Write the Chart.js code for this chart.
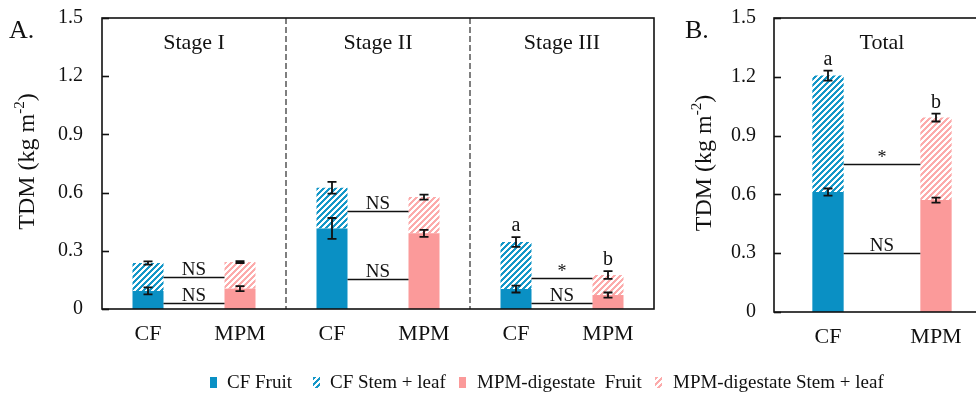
<!DOCTYPE html>
<html>
<head>
<meta charset="utf-8">
<script src="https://cdn.jsdelivr.net/npm/chart.js@4.4.1/dist/chart.umd.min.js"></script>
<style>
  html, body { margin: 0; padding: 0; background: #fff; overflow: hidden; }
  #wrap { position: relative; width: 976px; height: 396px; overflow: hidden; }
  canvas.ch { position: absolute; top: 0; }
  .leg { position: absolute; top: 372px; font-family: "Liberation Serif", "Times New Roman", serif; font-size: 19px; color: #111; white-space: pre; line-height: 20px; }
  .sw { position: absolute; top: 377px; }
</style>
</head>
<body>
<div id="wrap">
  <canvas id="cA" class="ch" width="670" height="396" style="left:0px;width:670px;height:396px"></canvas>
  <canvas id="cB" class="ch" width="320" height="396" style="left:680px;width:320px;height:396px"></canvas>
  <canvas class="sw" id="s1" width="7" height="11" style="left:210px"></canvas>
  <div class="leg" style="left:227px">CF Fruit</div>
  <canvas class="sw" id="s2" width="7" height="11" style="left:313px"></canvas>
  <div class="leg" style="left:330px">CF Stem + leaf</div>
  <canvas class="sw" id="s3" width="7" height="11" style="left:459px"></canvas>
  <div class="leg" style="left:477px">MPM-digestate  Fruit</div>
  <canvas class="sw" id="s4" width="7" height="11" style="left:655px"></canvas>
  <div class="leg" style="left:673px">MPM-digestate Stem + leaf</div>
</div>
<script>
// ---------------- DATA ----------------
const yTicks = [0, 0.3, 0.6, 0.9, 1.2, 1.5];

// Panel A: stage-wise (CF, MPM per stage)
const stagesA = ["Stage I", "Stage II", "Stage III"];
const catsA = ["CF", "MPM", "CF", "MPM", "CF", "MPM"];
const fruitA = [0.093, 0.105, 0.415, 0.390, 0.103, 0.072];
const stemA = [0.144, 0.137, 0.210, 0.187, 0.242, 0.103];
const fruitErrA = [0.018, 0.013, 0.054, 0.018, 0.018, 0.013];
const totalErrA = [0.008, 0.005, 0.030, 0.013, 0.025, 0.020];
// significance lines between CF and MPM bars: [stage index, y value, label]
const sigA = [[0, 0.165, "NS"], [0, 0.031, "NS"], [1, 0.505, "NS"], [1, 0.155, "NS"], [2, 0.160, "*"], [2, 0.031, "NS"]];
const lettersA = ["", "", "", "", "a", "b"];

// Panel B: total
const catsB = ["CF", "MPM"];
const fruitB = [0.612, 0.571];
const stemB = [0.594, 0.421];
const fruitErrB = [0.018, 0.013];
const totalErrB = [0.026, 0.020];
const sigB = [[0, 0.755, "*"], [0, 0.300, "NS"]];
const lettersB = ["a", "b"];

// ---------------- STYLE ----------------
const BLUE = "#0a90c4";
const BLUE_H = "#1597c8";
const PINK = "#fb9a9a";
const PINK_H = "#fcabab";
const SERIF = '"Liberation Serif", "Times New Roman", serif';

function hatch(color) {
  const s = 6;
  const c = document.createElement("canvas");
  c.width = s; c.height = s;
  const g = c.getContext("2d");
  const img = g.createImageData(s, s);
  const r = parseInt(color.slice(1, 3), 16), gg = parseInt(color.slice(3, 5), 16), b = parseInt(color.slice(5, 7), 16);
  for (let y = 0; y < s; y++) for (let x = 0; x < s; x++) {
    const on = ((x + y) % s) < 3;
    const k = (y * s + x) * 4;
    img.data[k] = on ? r : 255; img.data[k + 1] = on ? gg : 255; img.data[k + 2] = on ? b : 255; img.data[k + 3] = 255;
  }
  g.putImageData(img, 0, 0);
  return c;
}
const hatchBlueC = hatch(BLUE_H), hatchPinkC = hatch(PINK_H);

function swatch(id, fill) {
  const c = document.getElementById(id), g = c.getContext("2d");
  g.fillStyle = typeof fill === "string" ? fill : g.createPattern(fill, "repeat");
  g.fillRect(0, 0, c.width, c.height);
}
swatch("s1", BLUE); swatch("s2", hatchBlueC); swatch("s3", PINK); swatch("s4", hatchPinkC);

const overlay = {
  id: "overlay",
  afterDatasetsDraw(chart, args, o) {
    const ctx = chart.ctx, ca = chart.chartArea;
    const xs = chart.scales.x, ys = chart.scales.y;
    const m0 = chart.getDatasetMeta(0).data;
    ctx.save();
    // stage separators and titles
    if (o.stages) {
      ctx.strokeStyle = "#7f7f7f"; ctx.lineWidth = 2; ctx.setLineDash([6, 3]);
      for (let k = 1; k < o.stages.length; k++) {
        const x = Math.round((xs.getPixelForValue(2 * k - 1) + xs.getPixelForValue(2 * k)) / 2);
        ctx.beginPath(); ctx.moveTo(x, ca.top); ctx.lineTo(x, ca.bottom); ctx.stroke();
      }
      ctx.setLineDash([]);
    }
    ctx.fillStyle = "#111"; ctx.textAlign = "center"; ctx.textBaseline = "middle";
    ctx.font = "22px " + SERIF;
    o.titles.forEach((t, k) => {
      const x = (xs.getPixelForValue(2 * k) + xs.getPixelForValue(2 * k + 1)) / 2;
      ctx.fillText(t, x, ca.top + o.titleDy);
    });
    // significance lines
    ctx.strokeStyle = "#111"; ctx.lineWidth = 1.5;
    o.sig.forEach(([st, v, lab]) => {
      const a = m0[2 * st], b = m0[2 * st + 1];
      const x1 = a.x + a.width / 2, x2 = b.x - b.width / 2, y = Math.round(ys.getPixelForValue(v)) + 0.5;
      ctx.beginPath(); ctx.moveTo(x1, y); ctx.lineTo(x2, y); ctx.stroke();
      ctx.font = (lab === "*" ? "18px " : "19px ") + SERIF;
      ctx.textBaseline = "alphabetic";
      ctx.fillText(lab, (x1 + x2) / 2, y - (lab === "*" ? 2 : 3));
    });
    // error bars
    ctx.lineWidth = 1.8;
    const eb = (x, v, e) => {
      const y1 = ys.getPixelForValue(v - e), y2 = ys.getPixelForValue(v + e);
      ctx.beginPath();
      ctx.moveTo(x, y1); ctx.lineTo(x, y2);
      ctx.moveTo(x - 4.5, y1); ctx.lineTo(x + 4.5, y1);
      ctx.moveTo(x - 4.5, y2); ctx.lineTo(x + 4.5, y2);
      ctx.stroke();
    };
    o.fruit.forEach((f, i) => {
      const x = m0[i].x;
      eb(x, f, o.fruitErr[i]);
      const tot = f + o.stem[i];
      eb(x, tot, o.totalErr[i]);
      if (o.letters[i]) {
        ctx.font = "20px " + SERIF; ctx.textBaseline = "alphabetic";
        ctx.fillText(o.letters[i], x, ys.getPixelForValue(tot + o.totalErr[i]) - 6);
      }
    });
    // frame + inward ticks
    ctx.strokeStyle = "#111"; ctx.lineWidth = 1.6;
    ctx.strokeRect(ca.left, ca.top, ca.right - ca.left, ca.bottom - ca.top);
    yTicks.forEach(v => {
      const y = Math.round(ys.getPixelForValue(v)) + 0.5;
      ctx.beginPath(); ctx.moveTo(ca.left, y); ctx.lineTo(ca.left + 7, y); ctx.stroke();
    });
    // axis title with superscript
    ctx.translate(o.axisX, (ca.top + ca.bottom) / 2 - 2);
    ctx.rotate(-Math.PI / 2);
    ctx.textBaseline = "middle"; ctx.textAlign = "left";
    const big = "24px " + SERIF, small = "15px " + SERIF;
    ctx.font = big; const w1 = ctx.measureText("TDM (kg m").width, w3 = ctx.measureText(")").width;
    ctx.font = small; const w2 = ctx.measureText("-2").width;
    let x0 = -(w1 + w2 + w3) / 2;
    ctx.font = big; ctx.fillText("TDM (kg m", x0, 0);
    ctx.font = small; ctx.fillText("-2", x0 + w1, -8);
    ctx.font = big; ctx.fillText(")", x0 + w1 + w2, 0);
    ctx.setTransform(1, 0, 0, 1, 0, 0);
    // panel letter
    ctx.font = "26px " + SERIF; ctx.textAlign = "left"; ctx.textBaseline = "middle";
    ctx.fillText(o.panel, o.panelX, 31);
    ctx.restore();
  }
};

function makeChart(id, cats, fruit, stem, cfg) {
  const barColors = cats.map(c => c === "CF" ? BLUE : PINK);
  const ctx = document.getElementById(id).getContext("2d");
  const patB = ctx.createPattern(hatchBlueC, "repeat"), patP = ctx.createPattern(hatchPinkC, "repeat");
  const hatchColors = cats.map(c => c === "CF" ? patB : patP);
  return new Chart(ctx, {
    type: "bar",
    data: {
      labels: cats,
      datasets: [
        { label: "Fruit", data: fruit, backgroundColor: barColors, borderWidth: 0, barPercentage: cfg.barPct, categoryPercentage: 1 },
        { label: "Stem + leaf", data: stem, backgroundColor: hatchColors, borderWidth: 0, barPercentage: cfg.barPct, categoryPercentage: 1 }
      ]
    },
    options: {
      responsive: false, animation: false, devicePixelRatio: 1,
      layout: { padding: { top: cfg.top, right: cfg.padRight, bottom: 0, left: 0 } },
      plugins: {
        legend: { display: false }, tooltip: { enabled: false },
        overlay: {
          stages: cfg.stages, titles: cfg.titles, titleDy: 25, sig: cfg.sig, fruit, stem,
          fruitErr: cfg.fruitErr, totalErr: cfg.totalErr, letters: cfg.letters,
          axisX: cfg.axisX, panel: cfg.panel, panelX: cfg.panelX
        }
      },
      scales: {
        x: {
          stacked: true,
          grid: { display: false, drawTicks: false }, border: { display: false },
          ticks: { color: "#111", font: { family: SERIF, size: 22 }, padding: 12, maxRotation: 0 },
          afterFit: s => { s.height = cfg.xH; s.paddingLeft = 0; s.paddingRight = 0; }
        },
        y: {
          stacked: true, min: 0, max: 1.5,
          afterBuildTicks: s => { s.ticks = yTicks.map(v => ({ value: v })); },
          grid: { display: false, drawTicks: false }, border: { display: false },
          ticks: { color: "#111", font: { family: SERIF, size: 20 }, padding: cfg.yPad, callback: v => v === 0 ? "0" : v.toFixed(1) },
          afterFit: s => { s.width = cfg.yW; s.paddingTop = 0; s.paddingBottom = 0; }
        }
      }
    },
    plugins: [overlay]
  });
}

makeChart("cA", catsA, fruitA, stemA, {
  barPct: 0.337, top: 18, padRight: 16, xH: 87, yW: 102, yPad: 19,
  stages: stagesA, titles: stagesA, sig: sigA, fruitErr: fruitErrA, totalErr: totalErrA, letters: lettersA,
  axisX: 28, panel: "A.", panelX: 9
});
makeChart("cB", catsB, fruitB, stemB, {
  barPct: 0.29, top: 18, padRight: 10, xH: 84, yW: 94, yPad: 18,
  stages: null, titles: ["Total"], sig: sigB, fruitErr: fruitErrB, totalErr: totalErrB, letters: lettersB,
  axisX: 25, panel: "B.", panelX: 5
});
</script>
</body>
</html>
